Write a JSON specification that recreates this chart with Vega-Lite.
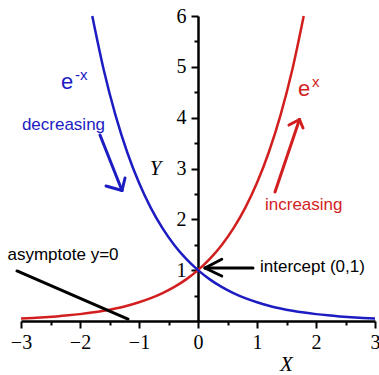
{
  "$schema": "https://vega.github.io/schema/vega-lite/v6.json",
  "width": 354,
  "height": 305,
  "autosize": {"type": "none"},
  "padding": {"left": 21, "top": 16, "right": 4, "bottom": 54},
  "background": "white",
  "config": {
    "view": {"stroke": null},
    "axis": {
      "grid": false,
      "title": null,
      "domainColor": "black",
      "domainWidth": 2.5,
      "tickColor": "black",
      "tickWidth": 2,
      "labelFont": "Liberation Serif",
      "labelFontSize": 20,
      "labelColor": "black",
      "labelFlush": false,
      "labelOverlap": false
    }
  },
  "datasets": {
    "curves": [
      {"series": "growth", "x": -3.0, "y": 0.0498},
      {"series": "growth", "x": -2.8, "y": 0.0608},
      {"series": "growth", "x": -2.6, "y": 0.0743},
      {"series": "growth", "x": -2.4, "y": 0.0907},
      {"series": "growth", "x": -2.2, "y": 0.1108},
      {"series": "growth", "x": -2.0, "y": 0.1353},
      {"series": "growth", "x": -1.8, "y": 0.1653},
      {"series": "growth", "x": -1.6, "y": 0.2019},
      {"series": "growth", "x": -1.4, "y": 0.2466},
      {"series": "growth", "x": -1.2, "y": 0.3012},
      {"series": "growth", "x": -1.0, "y": 0.3679},
      {"series": "growth", "x": -0.8, "y": 0.4493},
      {"series": "growth", "x": -0.6, "y": 0.5488},
      {"series": "growth", "x": -0.4, "y": 0.6703},
      {"series": "growth", "x": -0.2, "y": 0.8187},
      {"series": "growth", "x": 0.0, "y": 1.0},
      {"series": "growth", "x": 0.2, "y": 1.2214},
      {"series": "growth", "x": 0.4, "y": 1.4918},
      {"series": "growth", "x": 0.6, "y": 1.8221},
      {"series": "growth", "x": 0.8, "y": 2.2255},
      {"series": "growth", "x": 1.0, "y": 2.7183},
      {"series": "growth", "x": 1.2, "y": 3.3201},
      {"series": "growth", "x": 1.4, "y": 4.0552},
      {"series": "growth", "x": 1.6, "y": 4.953},
      {"series": "growth", "x": 1.792, "y": 6.0},
      {"series": "decay", "x": -1.792, "y": 6.0},
      {"series": "decay", "x": -1.6, "y": 4.953},
      {"series": "decay", "x": -1.4, "y": 4.0552},
      {"series": "decay", "x": -1.2, "y": 3.3201},
      {"series": "decay", "x": -1.0, "y": 2.7183},
      {"series": "decay", "x": -0.8, "y": 2.2255},
      {"series": "decay", "x": -0.6, "y": 1.8221},
      {"series": "decay", "x": -0.4, "y": 1.4918},
      {"series": "decay", "x": -0.2, "y": 1.2214},
      {"series": "decay", "x": 0.0, "y": 1.0},
      {"series": "decay", "x": 0.2, "y": 0.8187},
      {"series": "decay", "x": 0.4, "y": 0.6703},
      {"series": "decay", "x": 0.6, "y": 0.5488},
      {"series": "decay", "x": 0.8, "y": 0.4493},
      {"series": "decay", "x": 1.0, "y": 0.3679},
      {"series": "decay", "x": 1.2, "y": 0.3012},
      {"series": "decay", "x": 1.4, "y": 0.2466},
      {"series": "decay", "x": 1.6, "y": 0.2019},
      {"series": "decay", "x": 1.8, "y": 0.1653},
      {"series": "decay", "x": 2.0, "y": 0.1353},
      {"series": "decay", "x": 2.2, "y": 0.1108},
      {"series": "decay", "x": 2.4, "y": 0.0907},
      {"series": "decay", "x": 2.6, "y": 0.0743},
      {"series": "decay", "x": 2.8, "y": 0.0608},
      {"series": "decay", "x": 3.0, "y": 0.0498}
    ],
    "strokes": [
      {"series": "decay", "x": -1.661, "y": 3.659, "x2": -1.288, "y2": 2.567},
      {"series": "decay", "x": -1.559, "y": 2.656, "x2": -1.288, "y2": 2.567},
      {"series": "decay", "x": -1.237, "y": 2.813, "x2": -1.288, "y2": 2.567},
      {"series": "growth", "x": 1.305, "y": 2.538, "x2": 1.72, "y2": 3.964},
      {"series": "growth", "x": 1.542, "y": 3.856, "x2": 1.72, "y2": 3.964},
      {"series": "growth", "x": 1.78, "y": 3.797, "x2": 1.72, "y2": 3.964},
      {"series": "note", "x": -3.068, "y": 0.984, "x2": -1.186, "y2": 0.039},
      {"series": "note", "x": 0.932, "y": 1.043, "x2": 0.119, "y2": 1.043},
      {"series": "note", "x": 0.402, "y": 1.214, "x2": 0.119, "y2": 1.043},
      {"series": "note", "x": 0.402, "y": 0.885, "x2": 0.119, "y2": 1.043}
    ],
    "labels": [
      {"series": "decay", "x": -2.985, "y": 3.763, "text": "decreasing"},
      {"series": "growth", "x": 1.136, "y": 2.19, "text": "increasing"},
      {"series": "note", "x": -3.229, "y": 1.2, "text": "asymptote y=0"},
      {"series": "note", "x": 1.051, "y": 0.956, "text": "intercept (0,1)"}
    ],
    "bases": [
      {"series": "decay", "x": -2.322, "y": 4.564, "text": "e"},
      {"series": "growth", "x": 1.695, "y": 4.427, "text": "e"}
    ],
    "exponents": [
      {"series": "decay", "x": -2.085, "y": 4.741, "text": "-x"},
      {"series": "growth", "x": 1.932, "y": 4.604, "text": "x"}
    ],
    "titles": [
      {"x": -0.72, "y": 3.0, "text": "Y"},
      {"x": 1.5, "y": -0.86, "text": "X"}
    ]
  },
  "resolve": {"axis": {"x": "independent", "y": "independent"}},
  "layer": [
    {
      "data": {"name": "curves"},
      "mark": {"type": "line", "strokeWidth": 2.5, "interpolate": "monotone", "clip": false},
      "encoding": {
        "x": {
          "field": "x", "type": "quantitative",
          "scale": {"domain": [-3, 3], "nice": false, "zero": false},
          "axis": {"orient": "bottom", "values": [-3, -2, -1, 0, 1, 2, 3], "tickSize": 7, "labelPadding": 4}
        },
        "y": {
          "field": "y", "type": "quantitative",
          "scale": {"domain": [0, 6], "nice": false, "zero": false},
          "axis": {"orient": "left", "offset": -177, "values": [1, 2, 3, 4, 5, 6], "tickSize": 7, "labelPadding": 5}
        },
        "color": {
          "field": "series", "type": "nominal", "legend": null,
          "scale": {"domain": ["decay", "growth", "note"], "range": ["#1c1cc2", "#d21e1e", "#000000"]}
        },
        "order": {"field": "x", "type": "quantitative"}
      }
    },
    {
      "data": {"name": "strokes"},
      "mark": {"type": "rule", "strokeWidth": 3, "strokeCap": "round"},
      "encoding": {
        "x": {"field": "x", "type": "quantitative", "scale": {"domain": [-3, 3], "nice": false, "zero": false}, "axis": null},
        "y": {"field": "y", "type": "quantitative", "scale": {"domain": [0, 6], "nice": false, "zero": false}, "axis": null},
        "x2": {"field": "x2"},
        "y2": {"field": "y2"},
        "color": {"field": "series", "type": "nominal", "legend": null}
      }
    },
    {
      "data": {"name": "labels"},
      "mark": {"type": "text", "font": "Liberation Sans", "fontSize": 17, "align": "left", "baseline": "alphabetic"},
      "encoding": {
        "x": {"field": "x", "type": "quantitative", "scale": {"domain": [-3, 3], "nice": false, "zero": false}, "axis": null},
        "y": {"field": "y", "type": "quantitative", "scale": {"domain": [0, 6], "nice": false, "zero": false}, "axis": null},
        "text": {"field": "text"},
        "color": {"field": "series", "type": "nominal", "legend": null}
      }
    },
    {
      "data": {"name": "bases"},
      "mark": {"type": "text", "font": "Liberation Sans", "fontSize": 22, "align": "left", "baseline": "alphabetic"},
      "encoding": {
        "x": {"field": "x", "type": "quantitative", "scale": {"domain": [-3, 3], "nice": false, "zero": false}, "axis": null},
        "y": {"field": "y", "type": "quantitative", "scale": {"domain": [0, 6], "nice": false, "zero": false}, "axis": null},
        "text": {"field": "text"},
        "color": {"field": "series", "type": "nominal", "legend": null}
      }
    },
    {
      "data": {"name": "exponents"},
      "mark": {"type": "text", "font": "Liberation Sans", "fontSize": 15, "align": "left", "baseline": "alphabetic"},
      "encoding": {
        "x": {"field": "x", "type": "quantitative", "scale": {"domain": [-3, 3], "nice": false, "zero": false}, "axis": null},
        "y": {"field": "y", "type": "quantitative", "scale": {"domain": [0, 6], "nice": false, "zero": false}, "axis": null},
        "text": {"field": "text"},
        "color": {"field": "series", "type": "nominal", "legend": null}
      }
    },
    {
      "data": {"name": "titles"},
      "mark": {"type": "text", "font": "Liberation Serif", "fontStyle": "italic", "fontSize": 21, "align": "center", "baseline": "middle", "color": "black"},
      "encoding": {
        "x": {
          "field": "x", "type": "quantitative",
          "scale": {"domain": [-3, 3], "nice": false, "zero": false},
          "axis": {"orient": "bottom", "values": [-2.5, -1.5, -0.5, 0.5, 1.5, 2.5], "domain": false, "labels": false, "tickSize": 4}
        },
        "y": {
          "field": "y", "type": "quantitative",
          "scale": {"domain": [0, 6], "nice": false, "zero": false},
          "axis": {"orient": "left", "offset": -177, "values": [0.5, 1.5, 2.5, 3.5, 4.5, 5.5], "domain": false, "labels": false, "tickSize": 4}
        },
        "text": {"field": "text"}
      }
    }
  ]
}
